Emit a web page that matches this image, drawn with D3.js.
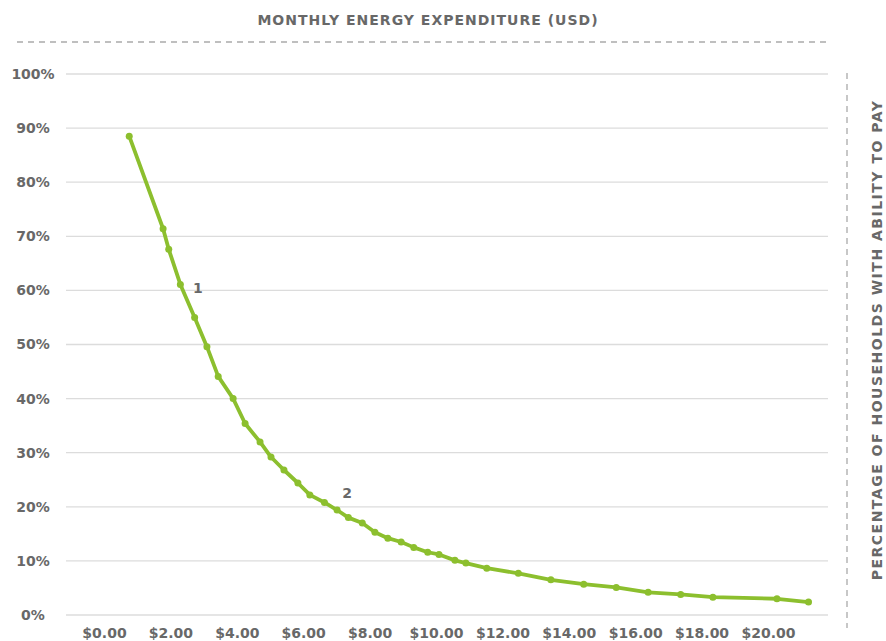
<!DOCTYPE html>
<html>
<head>
<meta charset="utf-8">
<script src="https://cdn.jsdelivr.net/npm/d3@7"></script>
<style>
  body { margin: 0; background: #fff; }
  text { font-family: "DejaVu Sans", sans-serif; font-weight: bold; fill: #686868; }
</style>
</head>
<body>
<script>
// Chart data
const spend = [0.76, 1.78, 1.95, 2.30, 2.73, 3.10, 3.44, 3.89, 4.25, 4.70,
               5.03, 5.42, 5.84, 6.20, 6.64, 7.02, 7.36, 7.78, 8.16, 8.55,
               8.95, 9.33, 9.75, 10.09, 10.57, 10.90, 11.53, 12.48, 13.46, 14.45,
               15.43, 16.39, 17.37, 18.34, 20.27, 21.22];
const share = [88.5, 71.4, 67.6, 61.1, 55.0, 49.6, 44.1, 40.0, 35.4, 32.0,
               29.2, 26.8, 24.4, 22.2, 20.8, 19.4, 18.0, 17.0, 15.3, 14.2,
               13.5, 12.5, 11.6, 11.2, 10.1, 9.6, 8.65, 7.7, 6.5, 5.7,
               5.1, 4.2, 3.8, 3.3, 3.0, 2.4];
const xTicks = [0, 2, 4, 6, 8, 10, 12, 14, 16, 18, 20];
const yTicks = [0, 10, 20, 30, 40, 50, 60, 70, 80, 90, 100];
const noteLabels = ["1", "2"];
const noteX = [2.83, 7.32];
const noteY = [60.5, 22.5];

const width = 886;
const height = 641;
const green = "#8cbf2e";

const svg = d3.select("body")
              .append("svg")
              .attr("width", width)
              .attr("height", height);

const x = d3.scaleLinear().domain([0, 20]).range([104, 768]);
const y = d3.scaleLinear().domain([0, 100]).range([615, 74]);

// top title and dashed rule
svg.append("text")
   .attr("x", 428)
   .attr("y", 25)
   .attr("text-anchor", "middle")
   .style("font-size", "14px")
   .style("letter-spacing", "1px")
   .text("MONTHLY ENERGY EXPENDITURE (USD)");

svg.append("line")
   .attr("x1", 17).attr("x2", 828)
   .attr("y1", 42).attr("y2", 42)
   .attr("stroke", "#aaaaaa")
   .attr("stroke-width", 1.3)
   .attr("stroke-dasharray", "6,5");

// right title and dashed rule
svg.append("line")
   .attr("x1", 847).attr("x2", 847)
   .attr("y1", 73).attr("y2", 628)
   .attr("stroke", "#aaaaaa")
   .attr("stroke-width", 1.3)
   .attr("stroke-dasharray", "6,5");

svg.append("text")
   .attr("transform", "translate(882 340) rotate(-90)")
   .attr("text-anchor", "middle")
   .style("font-size", "14px")
   .style("letter-spacing", "1.5px")
   .text("PERCENTAGE OF HOUSEHOLDS WITH ABILITY TO PAY");

// gridlines
svg.append("g")
   .selectAll("line")
   .data(yTicks)
   .enter()
   .append("line")
   .attr("x1", 66).attr("x2", 828)
   .attr("y1", d => y(d)).attr("y2", d => y(d))
   .attr("stroke", "#dcdcdc")
   .attr("stroke-width", 1.3);

// y axis labels
const yAxis = svg.append("g")
   .attr("transform", "translate(33,0)")
   .call(d3.axisLeft(y).tickValues(yTicks).tickFormat(d => d + "%").tickSize(0));
yAxis.select(".domain").remove();
yAxis.selectAll("text")
   .attr("x", 0)
   .attr("text-anchor", "middle")
   .attr("font-family", null)
   .attr("fill", null)
   .style("font-size", "14px");

// x axis labels
const xAxis = svg.append("g")
   .attr("transform", "translate(0,625)")
   .call(d3.axisBottom(x).tickValues(xTicks).tickFormat(d => "$" + d.toFixed(2)).tickSize(0));
xAxis.select(".domain").remove();
xAxis.selectAll("text")
   .attr("font-family", null)
   .attr("fill", null)
   .style("font-size", "14px");

// curve
const points = spend.map((d, i) => [d, share[i]]);

svg.append("path")
   .datum(points)
   .attr("d", d3.line().x(d => x(d[0])).y(d => y(d[1])))
   .attr("fill", "none")
   .attr("stroke", green)
   .attr("stroke-width", 3.8)
   .attr("stroke-linejoin", "round")
   .attr("stroke-linecap", "round");

svg.append("g")
   .selectAll("circle")
   .data(points)
   .enter()
   .append("circle")
   .attr("cx", d => x(d[0]))
   .attr("cy", d => y(d[1]))
   .attr("r", 3.5)
   .attr("fill", green);

// numbered notes
svg.append("g")
   .selectAll("text")
   .data(noteLabels)
   .enter()
   .append("text")
   .attr("x", (d, i) => x(noteX[i]))
   .attr("y", (d, i) => y(noteY[i]))
   .attr("dy", "0.35em")
   .attr("text-anchor", "middle")
   .style("font-size", "14px")
   .text(d => d);
</script>
</body>
</html>
